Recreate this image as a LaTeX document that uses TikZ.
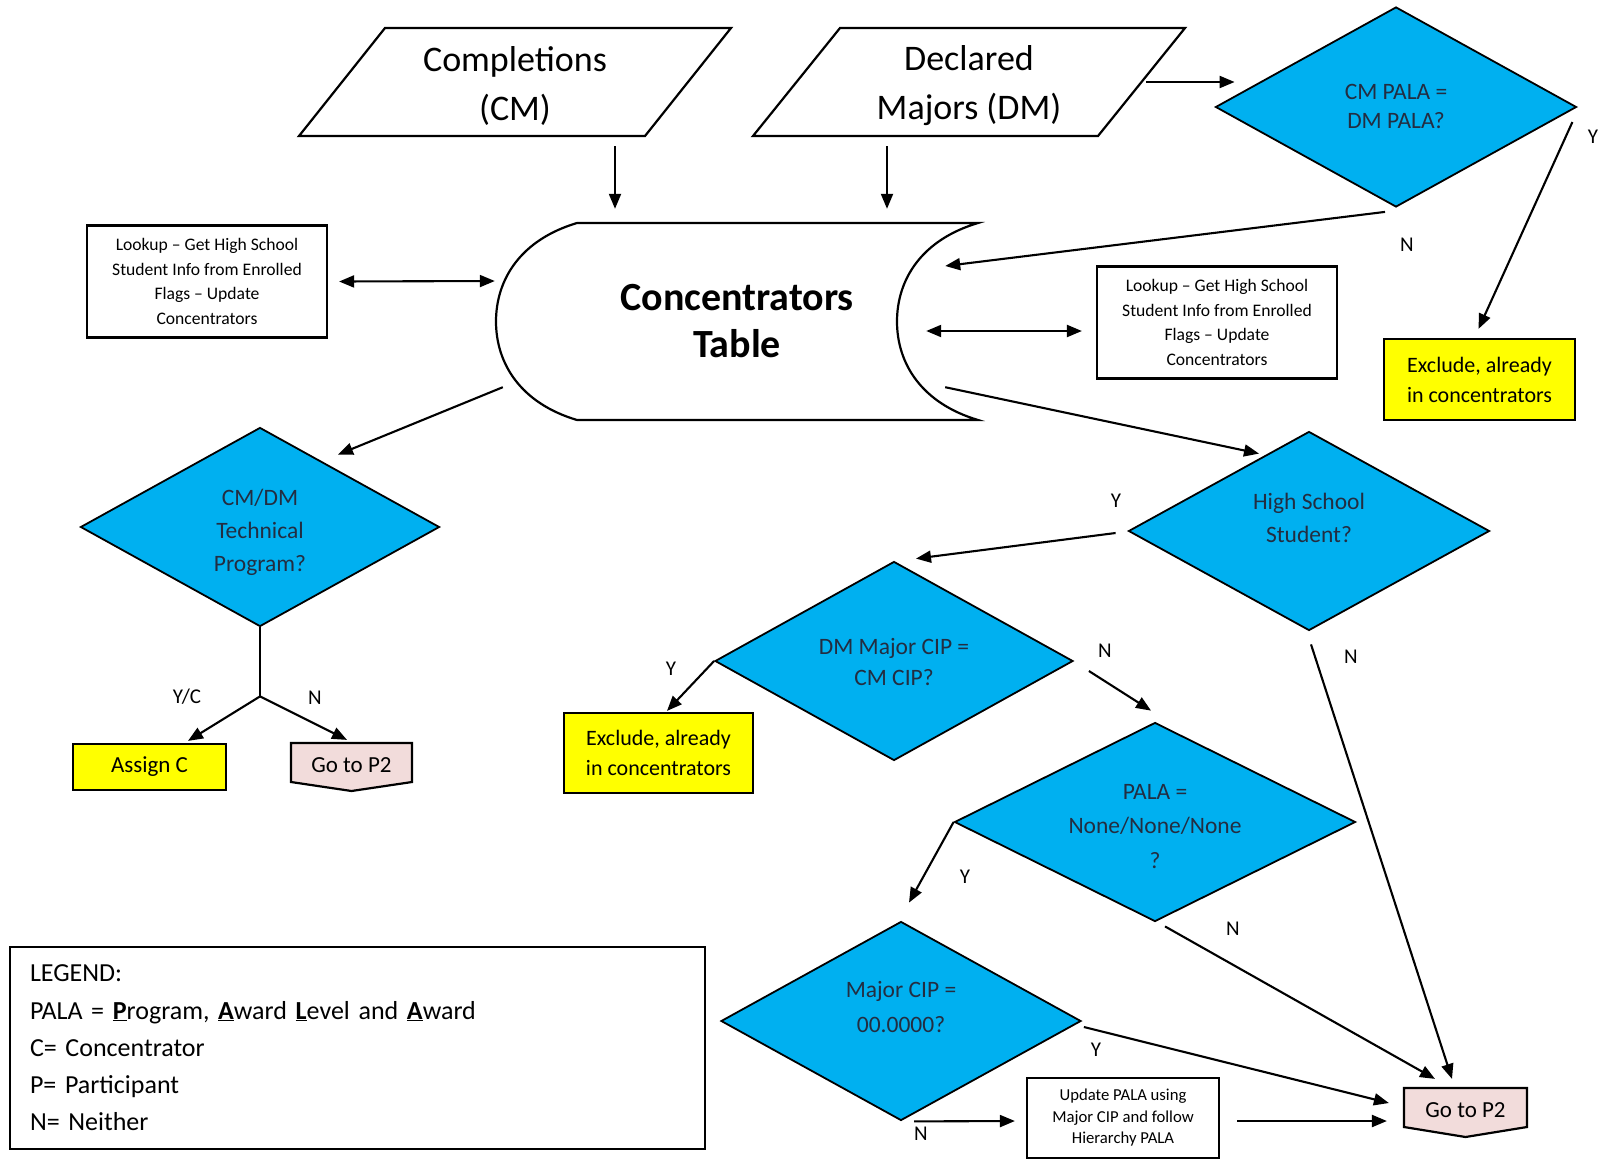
\documentclass[tikz,border=0pt]{standalone}
\usepackage{fontspec}
\setmainfont{Carlito}
\usepackage{tikz}
\usetikzlibrary{shapes,arrows,positioning,calc,arrows.meta}

\definecolor{qblue}{HTML}{00B0F0}
\definecolor{qtext}{RGB}{35,45,65}
\definecolor{exyellow}{HTML}{FFFF00}
\definecolor{gopink}{HTML}{F2DCDB}

% question text, lifted or lowered inside its diamond
\newcommand{\liftq}[2]{\raisebox{#1}[0pt][0pt]{\begin{tabular}{@{}c@{}}#2\end{tabular}}}

\tikzset{
  outline/.style={draw=black, line width=2.2pt},
  decision/.style={diamond, draw=black, line width=1.8pt, fill=qblue, text=qtext, align=center, inner sep=0pt, aspect=1.8, font=\fontsize{23.5}{33}\selectfont},
  lookup/.style={rectangle, outline, align=center, minimum width=240pt, minimum height=112pt, font=\fontsize{17.6}{24.6}\selectfont},
  excludebox/.style={rectangle, outline, fill=exyellow, align=center, font=\fontsize{22}{30}\selectfont},
  flow/.style={line width=2.1pt, -{Triangle[length=15pt,width=12pt]}},
  twoway/.style={line width=2.1pt, {Triangle[length=15pt,width=12pt]}-{Triangle[length=15pt,width=12pt]}},
  yn/.style={font=\fontsize{21}{21}\selectfont},
}

\begin{document}
\begin{tikzpicture}[x=1pt, y=-1pt]
    \useasboundingbox (0,0) rectangle (1602,1159);

    % Input files
    \node (cm) at (515,86) [minimum width=346pt, minimum height=100pt, align=center, font=\fontsize{36}{49}\selectfont] {Completions\\(CM)};
    \draw [outline, shift={(cm.center)}] (-130,-58) -- (216,-58) -- (130,50) -- (-216,50) -- cycle;
    \node (dm) at (969,86) [minimum width=346pt, minimum height=100pt, align=center, font=\fontsize{36}{49}\selectfont] {Declared\\Majors (DM)};
    \draw [outline, shift={(dm.center)}] (-129,-58) -- (216,-58) -- (129,50) -- (-216,50) -- cycle;

    % Concentrators table
    \node (tbl) at (737,321.5) [minimum width=482pt, minimum height=197pt, align=center, font=\fontsize{40}{47}\selectfont\bfseries] {Concentrators\\Table};
    \draw [outline, shift={(tbl.center)}] (-160,-98.5) -- (241,-98.5) .. controls (184,-81.5) and (160,-41.5) .. (160,0)
        .. controls (160,41.5) and (184,81.5) .. (241,98.5) -- (-160,98.5)
        .. controls (-217,81.5) and (-241,41.5) .. (-241,0) .. controls (-241,-41.5) and (-217,-81.5) .. (-160,-98.5) -- cycle;

    % Lookups
    \node (lookl) at (207,281.5) [lookup] {Lookup -- Get High School\\Student Info from Enrolled\\Flags -- Update\\Concentrators};
    \node (lookr) at (1217,322.5) [lookup] {Lookup -- Get High School\\Student Info from Enrolled\\Flags -- Update\\Concentrators};

    % Decisions
    \node (pala1) at (1396,107) [decision, minimum width=361pt, minimum height=200pt, font=\fontsize{23.5}{29}\selectfont] {\liftq{-7.5pt}{CM PALA =\\DM PALA?}};
    \node (tech) at (260,527) [decision, minimum width=359pt, minimum height=199pt] {\liftq{-11pt}{CM/DM\\Technical\\Program?}};
    \node (hs) at (1309,531) [decision, minimum width=361pt, minimum height=199pt] {\liftq{5pt}{High School\\Student?}};
    \node (dmcip) at (894,661) [decision, minimum width=358pt, minimum height=199pt, font=\fontsize{23.5}{31}\selectfont] {\liftq{-9pt}{DM Major CIP =\\CM CIP?}};
    \node (none) at (1155,822) [decision, aspect=2, minimum width=401pt, minimum height=199pt, font=\fontsize{23.5}{34.5}\selectfont] {\liftq{-11pt}{PALA =\\None/None/None\\?}};
    \node (mcip) at (901,1021) [decision, minimum width=360pt, minimum height=199pt, font=\fontsize{23.5}{35}\selectfont] {\liftq{7pt}{Major CIP =\\00.0000?}};

    % Results
    \node (excl1) at (1479.5,379.5) [excludebox, minimum width=191pt, minimum height=81pt] {Exclude, already\\in concentrators};
    \node (excl2) at (658.5,753) [excludebox, minimum width=189pt, minimum height=80pt] {Exclude, already\\in concentrators};
    \node (assignc) at (149.5,767) [excludebox, minimum width=153pt, minimum height=46pt, font=\fontsize{23}{23}\selectfont] {Assign C};
    \filldraw [outline, fill=gopink, shift={(351.5,762.5)}] (-60.5,-19.5) -- (60.5,-19.5) -- (60.5,19.5) -- (0,28.5) -- (-60.5,19.5) -- cycle
        node (gop2a) at (0,0) [minimum width=121pt, minimum height=39pt, inner sep=0pt, font=\fontsize{23}{23}\selectfont] {\raisebox{-10pt}[0pt][0pt]{Go to P2}};
    \filldraw [outline, fill=gopink, shift={(1465.5,1107.5)}] (-61.5,-19.5) -- (61.5,-19.5) -- (61.5,19.5) -- (0,29.5) -- (-61.5,19.5) -- cycle
        node (gop2b) at (0,0) [minimum width=123pt, minimum height=39pt, inner sep=0pt, font=\fontsize{23}{23}\selectfont] {\raisebox{-10pt}[0pt][0pt]{Go to P2}};
    \node (update) at (1123,1118) [rectangle, outline, minimum width=192pt, minimum height=80pt, align=center, font=\fontsize{16.7}{21.5}\selectfont] {Update PALA using\\Major CIP and follow\\Hierarchy PALA};

    % Legend
    \node (legend) at (357.5,1048) [rectangle, outline, minimum width=695pt, minimum height=202pt, text width=655pt, inner xsep=20pt, align=left, font=\fontsize{26}{37.3}\selectfont]
        {LEGEND:\\PALA = \underline{\textbf{P}}rogram, \underline{\textbf{A}}ward \underline{\textbf{L}}evel and \underline{\textbf{A}}ward\\C= Concentrator\\P= Participant\\N= Neither};

    % Connectors
    \draw [flow] ($(cm.south)+(100,10)$) -- ($(tbl.north)+(-122,-14)$);
    \draw [flow] ($(dm.south)+(-82,10)$) -- ($(tbl.north)+(150,-14)$);
    \draw [flow] ($(dm.east)+(4,-4)$) -- ($(pala1.west)+(20,-25)$);
    \draw [flow] ($(pala1.south)+(-11,4)$) -- ($(tbl.east)+(-33,-55.5)$);
    \draw [flow] ($(pala1.east)+(-5,15)$) -- ($(excl1.north)+(-1,-9)$);
    \draw [twoway] ($(lookl.east)+(11,0)$) -- ($(tbl.west)+(-1,-40.5)$);
    \draw [twoway] ($(tbl.east)+(-52,9.5)$) -- ($(lookr.west)+(-14,8.5)$);
    \draw [flow] ($(tbl.south west)+(7,-33)$) -- ($(tech.north)+(78,28)$);
    \draw [flow] ($(tbl.south east)+(-33,-33)$) -- ($(hs.north)+(-50,23)$);

    % Technical program split
    \coordinate (fork) at ($(tech.south)+(0,69)$);
    \draw [line width=2.1pt] (tech.south) -- (fork);
    \draw [flow] (fork) -- ($(assignc.north)+(38.5,-2)$);
    \draw [flow] (fork) -- ($(gop2a.north)+(-4.5,-2)$);

    \draw [flow] ($(hs.west)+(-12,2)$) -- ($(dmcip.north)+(22,-2)$);
    \draw [flow] ($(hs.south)+(2,13)$) -- ($(gop2b.north)+(-13.5,-8)$);
    \draw [flow] (dmcip.west) -- ($(excl2.north)+(8.5,-1)$);
    \draw [flow] ($(dmcip.east)+(15,10)$) -- ($(none.north)+(-4,-11)$);
    \draw [flow] (none.west) -- ($(mcip.north)+(8,-18)$);
    \draw [flow] ($(none.south)+(10,4)$) -- ($(gop2b.north)+(-30.5,-8)$);
    \draw [flow] ($(mcip.east)+(2,6)$) -- ($(gop2b.west)+(-14,-4.5)$);
    \draw [flow] ($(mcip.south)+(13,0)$) -- ($(update.west)+(-11,3)$);
    \draw [flow] ($(update.east)+(17,3)$) -- ($(gop2b.west)+(-16,13.5)$);

    % Branch labels
    \node (n-pala1) at (1407,245) [yn] {N};
    \node (y-pala1) at (1593,137) [yn] {Y};
    \node (y-tech) at (187,697) [yn] {Y/C};
    \node (n-tech) at (315,698) [yn] {N};
    \node (y-hs) at (1116,501) [yn] {Y};
    \node (n-hs) at (1351,657) [yn] {N};
    \node (y-dmcip) at (671,669) [yn] {Y};
    \node (n-dmcip) at (1105,651) [yn] {N};
    \node (y-none) at (965,877) [yn] {Y};
    \node (n-none) at (1233,929) [yn] {N};
    \node (y-mcip) at (1096,1050) [yn] {Y};
    \node (n-mcip) at (921,1134) [yn] {N};
\end{tikzpicture}
\end{document}
